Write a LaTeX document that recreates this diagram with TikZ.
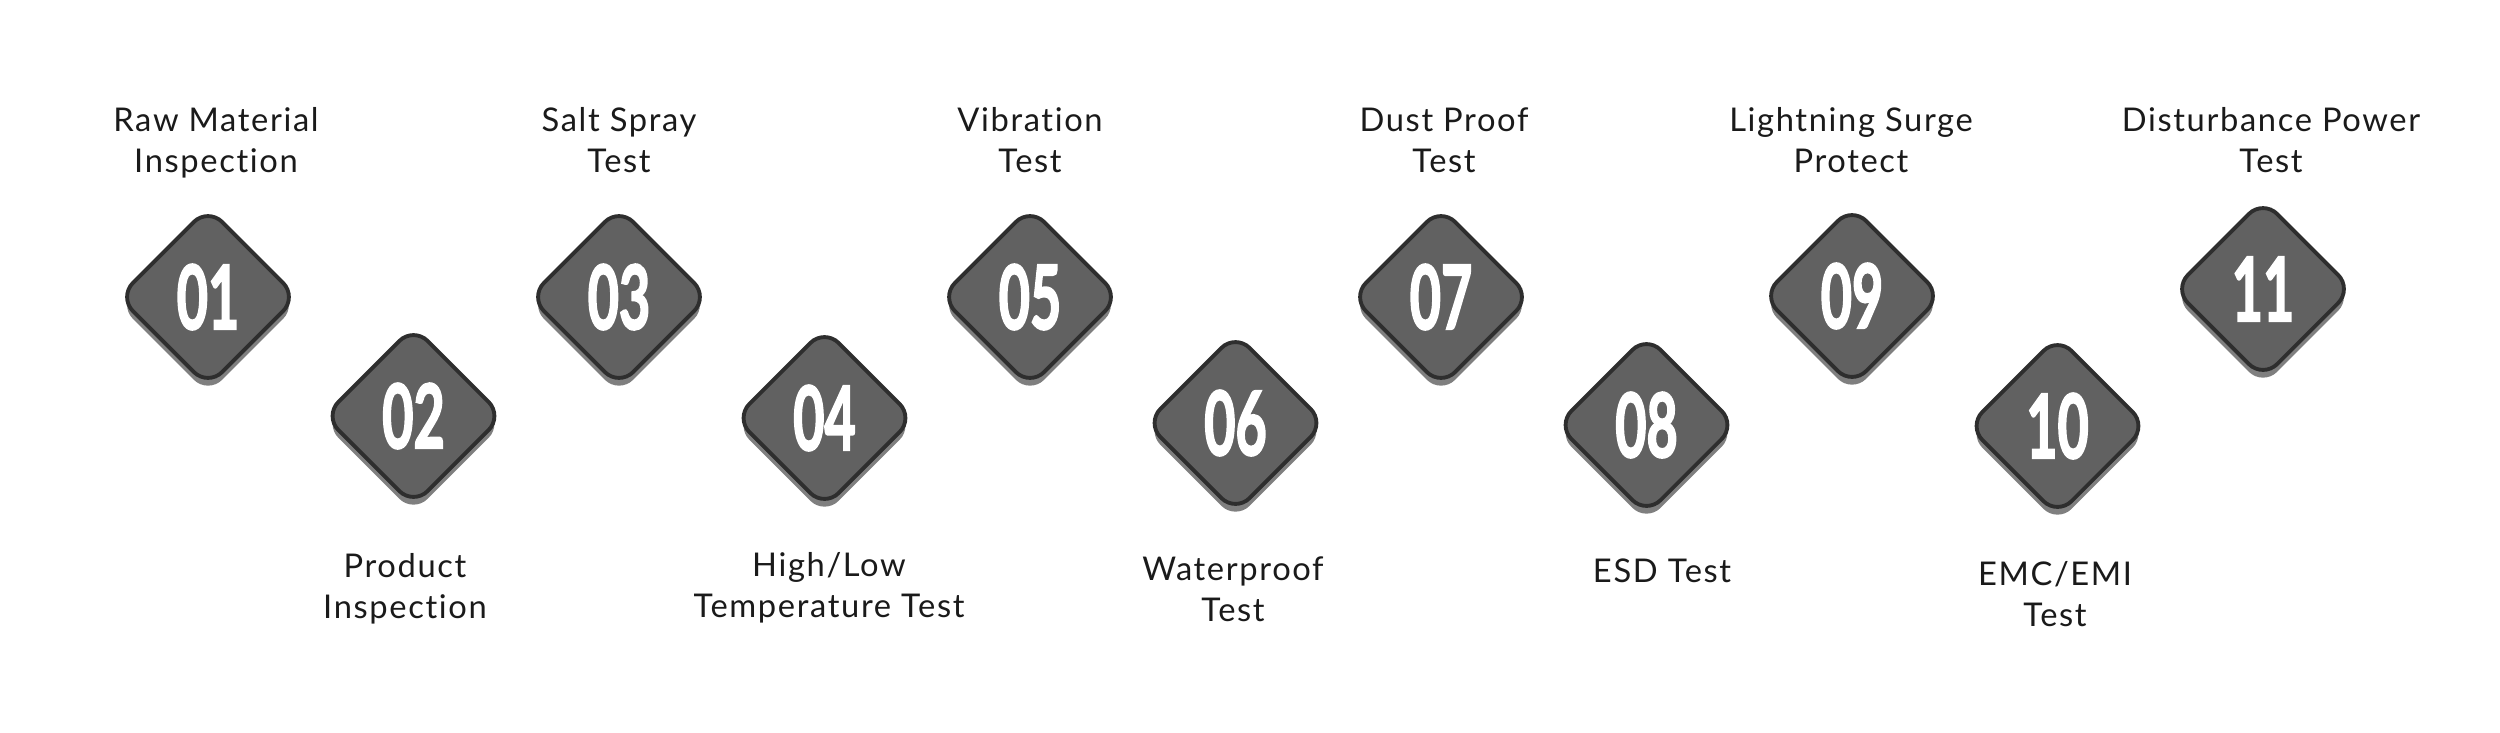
\documentclass[tikz,border=0pt]{standalone}
\usepackage{fontspec}
\setmainfont{Lato}[LetterSpace=5, RawFeature={-liga;-clig;-dlig;-hlig;-calt}]
\newfontfamily\numfont{Lato}[FakeBold=2.5]
\usetikzlibrary{shapes.geometric,shadows}
\definecolor{badgefill}{HTML}{616161}
\definecolor{badgeedge}{HTML}{2E2E2E}
\definecolor{labeltext}{HTML}{1A1A1A}
\newcommand\badgenum[1]{\scalebox{0.64}[1.05]{\numfont\bfseries\fontsize{24}{24}\selectfont #1}}
\tikzset{
  badge/.style={diamond, aspect=1, minimum size=1.8cm, inner sep=0pt, rounded corners=0.2cm,
    fill=badgefill, draw=badgeedge, line width=1.1pt, text=white,
    drop shadow={shadow xshift=0pt, shadow yshift=-2.2pt, opacity=0.5, fill=black}},
  stage/.style={align=center, anchor=base, inner sep=0pt, text=labeltext,
    font=\fontsize{9.3}{11.4}\selectfont}
}
\begin{document}
\begin{tikzpicture}
            \useasboundingbox (0,0) rectangle (25,7.32);
            \node[badge] (n01) at (2.08,4.35) {\badgenum{01}};
            \node[badge] (n02) at (4.135,3.16) {\badgenum{02}};
            \node[badge] (n03) at (6.19,4.35) {\badgenum{03}};
            \node[badge] (n04) at (8.245,3.14) {\badgenum{04}};
            \node[badge] (n05) at (10.30,4.35) {\badgenum{05}};
            \node[badge] (n06) at (12.355,3.09) {\badgenum{06}};
            \node[badge] (n07) at (14.41,4.35) {\badgenum{07}};
            \node[badge] (n08) at (16.465,3.07) {\badgenum{08}};
            \node[badge] (n09) at (18.52,4.36) {\badgenum{09}};
            \node[badge] (n10) at (20.575,3.06) {\badgenum{10}};
            \node[badge] (n11) at (22.63,4.43) {\badgenum{11}};
            \node[stage] (raw) at (2.16,5.60) {Raw Material\\Inspection};
            \node[stage] (product) at (4.05,1.14) {Product\\Inspection};
            \node[stage] (salt) at (6.19,5.60) {Salt Spray\\Test};
            \node[stage] (temp) at (8.29,1.15) {High/Low\\Temperature Test};
            \node[stage] (vibration) at (10.30,5.60) {Vibration\\Test};
            \node[stage] (water) at (12.33,1.11) {Waterproof\\Test};
            \node[stage] (dust) at (14.44,5.60) {Dust Proof\\Test};
            \node[stage] (esd) at (16.62,1.50) {ESD Test};
            \node[stage] (surge) at (18.51,5.60) {Lightning Surge\\Protect};
            \node[stage] (emc) at (20.55,1.06) {EMC/EMI\\Test};
            \node[stage] (power) at (22.71,5.60) {Disturbance Power\\Test};
        \end{tikzpicture}
\end{document}
